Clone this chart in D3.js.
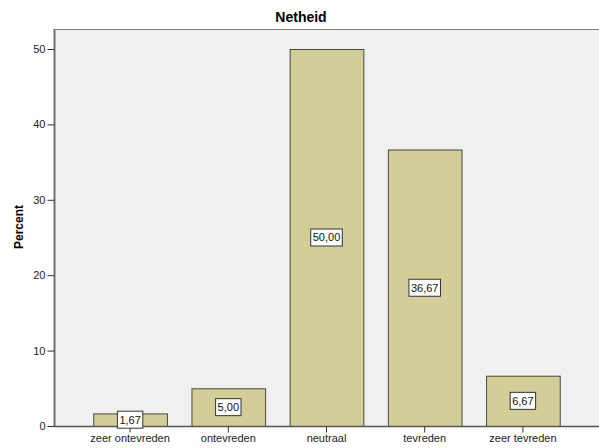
<!DOCTYPE html>
<html><head><meta charset="utf-8">
<script src="https://cdn.jsdelivr.net/npm/d3@7"></script>
<style>body{margin:0;background:#fff}svg{display:block}text{font-family:"Liberation Sans",Arial,sans-serif}</style>
</head><body><svg id="c" width="599" height="448"></svg>
<script>
const title = "Netheid";
const yLabel = "Percent";
const categories = ["zeer ontevreden","ontevreden","neutraal","tevreden","zeer tevreden"];
const values = [1.67, 5.00, 50.00, 36.67, 6.67];
const valueLabels = ["1,67","5,00","50,00","36,67","6,67"];
const yTicks = [0,10,20,30,40,50];

const svg = d3.select("#c");
const L=54, T=29, R=599, B=426;
const x = d3.scaleBand().domain(categories).range([L,R]).paddingInner(0.25).paddingOuter(0.4);
const y = d3.scaleLinear().domain([0,50]).range([B,49]);

svg.append("rect").attr("x",L).attr("y",T).attr("width",R-L).attr("height",B-T).attr("fill","#f0f0f0");
svg.append("line").attr("x1",L).attr("x2",R).attr("y1",T+0.5).attr("y2",T+0.5).attr("stroke","#808080");

svg.selectAll("rect.bar").data(values).join("rect").attr("class","bar")
  .attr("x",(d,i)=>x(categories[i])+0.5).attr("width",x.bandwidth())
  .attr("y",d=>y(d)+0.5).attr("height",d=>B-y(d))
  .attr("fill","#d3ce98").attr("stroke","#4a4a3a").attr("stroke-width",1);

const ya = svg.append("g").attr("transform",`translate(${L+0.5},0)`)
  .call(d3.axisLeft(y).tickValues(yTicks).tickSize(7).tickPadding(2).tickFormat(d3.format("d")));
ya.select(".domain").attr("d",`M0,${T}V${B}`).attr("stroke","#707070").attr("stroke-width",2);
ya.selectAll(".tick line").attr("stroke","#333");
ya.selectAll(".tick text").attr("font-size","11px").attr("fill","#222").attr("font-family","Liberation Sans, Arial");

const xa = svg.append("g").attr("transform",`translate(0,${B+0.5})`)
  .call(d3.axisBottom(x).tickSize(6).tickPadding(2).tickSizeOuter(0));
xa.select(".domain").attr("d",`M${L},0H${R}`).attr("stroke","#555").attr("stroke-width",1.5);
xa.selectAll(".tick line").attr("stroke","#333");
xa.selectAll(".tick text").attr("font-size","11px").attr("fill","#222").attr("font-family","Liberation Sans, Arial");

const lg = svg.selectAll("g.lab").data(values).join("g").attr("class","lab")
  .attr("transform",(d,i)=>`translate(${x(categories[i])+x.bandwidth()/2},${(y(d)+B)/2})`);
lg.each(function(d,i){
  const g=d3.select(this);
  const t=g.append("text").text(valueLabels[i]).attr("text-anchor","middle").attr("dy","0.36em")
    .attr("font-size","11px").attr("fill","#111");
  const w=t.node().getComputedTextLength()+4;
  g.insert("rect","text").attr("x",-w/2).attr("y",-8.5).attr("width",w).attr("height",17)
    .attr("fill","#fff").attr("stroke","#333");
});

svg.append("text").attr("x",301).attr("y",22).attr("text-anchor","middle")
  .attr("font-size","14px").attr("font-weight","bold").text(title);
svg.append("text").attr("transform","translate(23,227) rotate(-90)").attr("text-anchor","middle")
  .attr("font-size","12px").attr("font-weight","bold").text(yLabel);
</script></body></html>
